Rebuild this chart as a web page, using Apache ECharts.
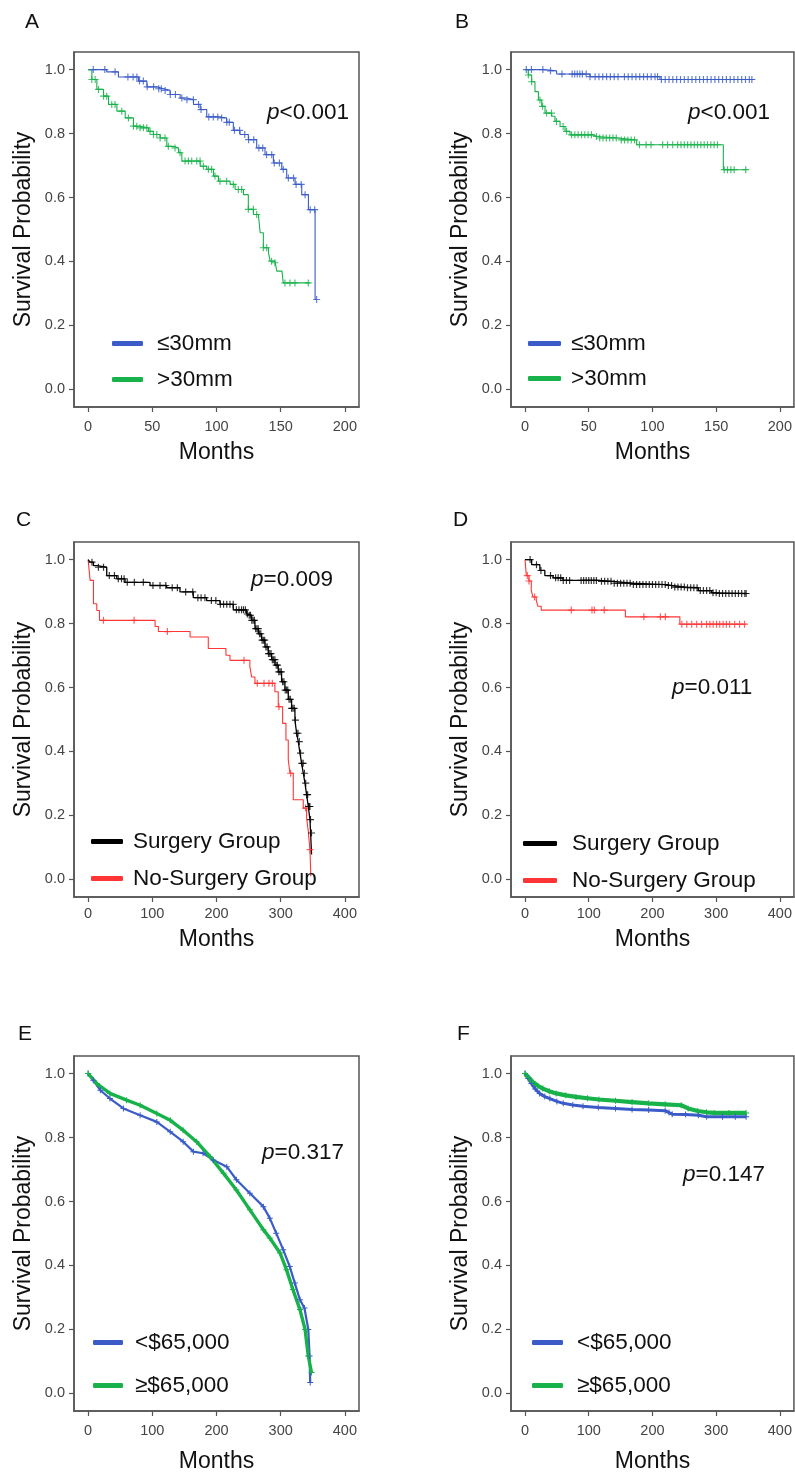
<!DOCTYPE html>
<html><head><meta charset="utf-8">
<script src="https://cdn.jsdelivr.net/npm/echarts@6/dist/echarts.min.js"></script>
<style>html,body{margin:0;padding:0;background:#fff}#c{width:795px;height:1474px}</style>
</head><body><div id="c"></div><script>
// ---------------- data ----------------
const probTicks = [0, 0.2, 0.4, 0.6, 0.8, 1.0];
const monthTicks200 = [0, 50, 100, 150, 200];
const monthTicks400 = [0, 100, 200, 300, 400];

const sizeNames = ['≤30mm', '>30mm'];
const surgNames = ['Surgery Group', 'No-Surgery Group'];
const incomeNames = ['<$65,000', '≥$65,000'];
const pValues = ['<0.001', '<0.001', '=0.009', '=0.011', '=0.317', '=0.147'];
const panelLetters = ['A', 'B', 'C', 'D', 'E', 'F'];

// Panel A  (time, survival after event)
const aSmall = [[0,1.0],[14.5,0.993],[23.6,0.977],[39.3,0.964],[45.8,0.946],[53.6,0.94],[58.8,0.935],[63.9,0.922],[71.7,0.911],[76.9,0.906],[82.1,0.891],[87.3,0.875],[92.4,0.852],[101.5,0.849],[107.9,0.835],[113.1,0.81],[118.3,0.797],[124.8,0.781],[131.3,0.755],[137.8,0.734],[144.3,0.708],[150.8,0.688],[154.7,0.661],[161.2,0.641],[166.4,0.609],[171.6,0.562],[176.8,0.281],[178,0.281]];
const aSmallCens = [4,13,21,31,35,38,40,43,46,51,55,57,60,64,68,73,77,82,86,88,94,97.5,101,104,108,110,114,118,122,125,129,133,136,139,143,145,149,152,156,160,162,166,169,173,176.5,178];
const aLarge = [[0,1.0],[2.9,0.969],[6.8,0.938],[12,0.917],[15.9,0.891],[22.4,0.87],[28.9,0.849],[35.3,0.823],[40.5,0.818],[47,0.807],[50.9,0.797],[56.1,0.786],[61.3,0.76],[66.5,0.755],[70.4,0.74],[73,0.714],[87.3,0.698],[92.4,0.688],[97.7,0.667],[101.5,0.651],[110.6,0.641],[114.5,0.625],[121,0.609],[124.8,0.563],[128.8,0.547],[132.6,0.542],[134,0.49],[136.5,0.443],[140.5,0.427],[141.8,0.401],[145.5,0.396],[147,0.37],[151,0.365],[152,0.333],[172.7,0.333]];
const aLargeCens = [2.9,5.5,8.1,12,14.5,18.4,21,26.2,31.4,35.3,37.9,40.5,43.1,45.7,48.2,50.9,53.5,56.1,59.9,62.5,67.7,71.6,75.5,78.1,80.7,84.6,87.2,89.8,93.7,96.2,98.8,102.7,107.9,113.1,117,119.6,124.8,128.7,131.3,136.5,139.1,142.9,145.5,153.3,157.2,161.1,171.5];

// Panel B
const bSmall = [[0,1.0],[14.4,0.996],[24.8,0.986],[51,0.978],[105.9,0.969],[180,0.969]];
const bSmallCens = [1,5,14,20,29,37,39,41,43,45,48,51,55,58,61,64,67,70,73,78,81,84,87,90,93,96,99,102,104,107,110,113,116,119,122,125,128,131,134,137,140,143,146,149,152,155,158,161,164,167,170,173,176,178];
const bLarge = [[0,1.0],[2.6,0.983],[5.2,0.962],[7.8,0.931],[10.5,0.905],[13.1,0.885],[15.7,0.864],[20.9,0.854],[23.5,0.838],[27.5,0.822],[31.4,0.807],[35.3,0.796],[53.6,0.791],[56.2,0.786],[73.2,0.78],[87.6,0.765],[155.6,0.687],[174,0.687]];
const bLargeCens = [2.6,5.2,11.7,13.8,16.9,20.8,24.7,29.9,32.6,36.5,39.1,41.7,44.3,46.9,49.5,52.1,56,58.6,61.2,63.8,66.4,69,71.6,75.5,78.1,80.7,83.3,85.9,89.8,95,98.9,108,111.9,115.9,119.8,122.4,125,127.6,130.2,132.8,135.4,138,140.6,143.2,145.8,148.4,151,156.3,158.9,161.5,164.1,173.2];

// Panel C
const cSurg = [[0,1.0],[3.1,0.992],[8.3,0.981],[13.5,0.976],[29,0.95],[44.6,0.94],[57.5,0.929],[96.4,0.919],[122.4,0.912],[143.1,0.899],[163.8,0.881],[184.6,0.872],[205.4,0.86],[226.1,0.843],[246.9,0.83],[249.5,0.826],[254.7,0.81],[259.9,0.784],[265.1,0.768],[270.3,0.748],[275.5,0.727],[280.7,0.706],[285.9,0.687],[291.1,0.67],[296.2,0.649],[301.4,0.618],[306.6,0.592],[311.8,0.563],[317,0.535],[322.2,0.498],[324.8,0.457],[327.4,0.431],[330,0.395],[332.6,0.363],[335.2,0.332],[337.8,0.301],[340.4,0.265],[343,0.228],[345.6,0.187],[346.6,0.145],[348.1,0.078]];
const cSurgCens = [6,16,24,33,41,47,52,56,61,72,86,101,112,121,131,139,152,163,171,176,182,192,199,206,211,216,221,226,231,235,239,242,245,248,251,253,255,257,259,261,263,265,267,269,271,273,275,277,279,281,283,285,287,289,291,293,295,297,299,301,303,305,307,309,311,313,315,317,319,321,323,325,327,329,331,333,335,337,339,340.5,342,343.5,344.5,345.5,346.5,348];
const cNoSurg = [[0,1.0],[3.1,0.935],[8.3,0.862],[13.5,0.841],[17.7,0.81],[104.3,0.791],[109.5,0.775],[158.8,0.758],[187.2,0.722],[214.7,0.701],[221,0.685],[252,0.665],[254.7,0.633],[259.9,0.613],[291,0.587],[296.2,0.54],[303,0.488],[308.2,0.436],[311.8,0.374],[314.4,0.332],[319.6,0.249],[335.2,0.223],[340.4,0.192],[343,0.15],[345.6,0.093],[347,0.01]];
const cNoSurgCens = [23.9,71.6,123.5,242.8,263.6,274,281.7,287,297.3,315.5,338.8,345.8];

// Panel D
const dSurg = [[0,1.0],[10.4,0.984],[23.3,0.966],[31.1,0.95],[44,0.943],[59.6,0.935],[116.6,0.932],[137.3,0.926],[168.4,0.922],[220.2,0.919],[230.6,0.914],[251.3,0.912],[272,0.903],[292.7,0.896],[303.1,0.894],[347.1,0.894]];
const dSurgCens = [8,18,25,40,48,52,56,60,65,70,88,92,96,100,104,108,112,120,125,130,135,140,145,150,155,160,165,170,175,180,185,190,195,200,205,210,215,220,225,230,235,240,245,250,255,260,265,270,275,280,285,290,295,300,305,310,315,320,325,330,335,340,345,347];
const dNoSurg = [[0,1.0],[2.1,0.95],[6.2,0.933],[9.8,0.904],[12.4,0.883],[17.6,0.873],[20.2,0.854],[25.4,0.842],[157.5,0.821],[243,0.798],[346.7,0.798]];
const dNoSurgCens = [3.6,6.2,15,72.5,105.1,108.8,124.3,186.5,212.4,220.2,246.1,253.9,261.6,269.4,277.2,284.9,290.1,295.3,300.5,305.6,310.8,316,321.2,329,336.7,344.5];

// Panel E
const eLow = [[0,1.0],[8,0.979],[19,0.948],[34,0.922],[55,0.891],[81,0.87],[107,0.849],[128,0.818],[148,0.787],[164,0.756],[179,0.751],[195,0.73],[216,0.709],[231,0.668],[252,0.626],[273,0.584],[283,0.548],[293,0.501],[304,0.449],[314,0.397],[322,0.345],[330,0.293],[337,0.267],[343,0.2],[345,0.117],[346,0.034]];
const eHigh = [[0,1.0],[13.5,0.969],[34,0.938],[60,0.917],[81,0.901],[107,0.875],[128,0.854],[148,0.823],[169,0.787],[190,0.74],[211,0.688],[231,0.636],[252,0.574],[273,0.512],[283,0.486],[299,0.439],[309,0.387],[319,0.325],[330,0.262],[338,0.2],[343,0.117],[348,0.065]];

// Panel F
const fLow = [[0,1.0],[5,0.985],[10,0.969],[16,0.952],[23,0.938],[31,0.928],[39,0.922],[50,0.913],[60,0.907],[75,0.902],[91,0.898],[115,0.894],[142,0.891],[168,0.888],[194,0.886],[220,0.884],[226,0.878],[231,0.873],[252,0.872],[272,0.87],[285,0.865],[310,0.865],[330,0.865],[347,0.865]];
const fHigh = [[0,1.0],[6,0.987],[12,0.974],[20,0.962],[28,0.953],[38,0.945],[49,0.938],[64,0.932],[80,0.927],[98,0.923],[116,0.919],[142,0.915],[168,0.911],[194,0.907],[220,0.904],[245,0.901],[256,0.891],[271,0.883],[285,0.879],[297,0.877],[320,0.877],[347,0.877]];

// ---------------- styling / layout ----------------
const FONT = 'Arial, "Liberation Sans", Helvetica, sans-serif';
const PLUS = 'path://M2.5,0H3.5V2.5H6V3.5H3.5V6H2.5V3.5H0V2.5H2.5Z';
const BLUE = '#3a5bc8', GREEN = '#17b24a', RED = '#ff3535', BLACK = '#000000';

const grids = [
  {left: 74, top: 52, width: 285, height: 355},
  {left: 511, top: 52, width: 285, height: 355},
  {left: 74, top: 542, width: 285, height: 355},
  {left: 511, top: 542, width: 285, height: 355},
  {left: 74, top: 1056, width: 285, height: 356},
  {left: 511, top: 1056, width: 285, height: 356}
];
const xLabelMargin = [12, 12, 9, 9, 12, 12];
const xNameGap = [34, 34, 31, 31, 39, 39];

function stepAt(curve, t) {
  let s = curve[0][1];
  for (const p of curve) { if (p[0] <= t) s = p[1]; else break; }
  return s;
}
function censorPts(curve, times) { return times.map(t => [t, stepAt(curve, t)]); }

const xAxes = [], yAxes = [], series = [], legends = [], graphics = [];
grids.forEach((g, i) => {
  const short = i < 2;
  const ticks = short ? monthTicks200 : monthTicks400;
  xAxes.push({
    type: 'value', gridIndex: i, position: 'bottom',
    min: short ? -11 : -22, max: short ? 211 : 422,
    name: 'Months', nameLocation: 'middle', nameGap: xNameGap[i],
    nameTextStyle: {fontFamily: FONT, fontSize: 23, color: '#111'},
    axisLine: {show: true, onZero: false, lineStyle: {color: '#555', width: 1.5}},
    axisTick: {show: true, length: 5, lineStyle: {color: '#555', width: 1.2}, customValues: ticks},
    axisLabel: {fontFamily: FONT, fontSize: 14.5, color: '#444', margin: xLabelMargin[i], customValues: ticks},
    splitLine: {show: false}
  });
  yAxes.push({
    type: 'value', gridIndex: i, position: 'left', min: -0.055, max: 1.055,
    name: 'Survival Probability', nameLocation: 'middle', nameGap: 39,
    nameTextStyle: {fontFamily: FONT, fontSize: 23, color: '#111'},
    axisLine: {show: true, onZero: false, lineStyle: {color: '#555', width: 1.5}},
    axisTick: {show: true, length: 5, lineStyle: {color: '#555', width: 1.2}, customValues: probTicks},
    axisLabel: {fontFamily: FONT, fontSize: 14.5, color: '#444', margin: 9, customValues: probTicks,
      formatter: v => v.toFixed(1)},
    splitLine: {show: false}
  });
});

function kmSeries(idx, name, color, curve, cens, width) {
  series.push({
    type: 'line', name: name, xAxisIndex: idx, yAxisIndex: idx, data: curve,
    step: 'end', symbol: 'none', lineStyle: {color: color, width: width || 1.1},
    itemStyle: {color: color}, silent: true
  });
  series.push({
    type: 'scatter', name: name + ' (censored)', xAxisIndex: idx, yAxisIndex: idx,
    data: censorPts(curve, cens), symbol: PLUS, symbolSize: 7,
    itemStyle: {color: color}, silent: true, z: 3
  });
}
function smoothSeries(idx, name, color, curve, width) {
  series.push({
    type: 'line', name: name, xAxisIndex: idx, yAxisIndex: idx, data: curve,
    symbol: PLUS, symbolSize: 6, showSymbol: true, showAllSymbol: true,
    lineStyle: {color: color, width: width}, itemStyle: {color: color}, silent: true
  });
}

kmSeries(0, sizeNames[0], BLUE, aSmall, aSmallCens);
kmSeries(0, sizeNames[1], GREEN, aLarge, aLargeCens);
kmSeries(1, sizeNames[0], BLUE, bSmall, bSmallCens);
kmSeries(1, sizeNames[1], GREEN, bLarge, bLargeCens);
kmSeries(2, surgNames[1], RED, cNoSurg, cNoSurgCens);
kmSeries(2, surgNames[0], BLACK, cSurg, cSurgCens, 1.3);
kmSeries(3, surgNames[1], RED, dNoSurg, dNoSurgCens);
kmSeries(3, surgNames[0], BLACK, dSurg, dSurgCens, 1.3);
smoothSeries(4, incomeNames[0], BLUE, eLow, 2.2);
smoothSeries(4, incomeNames[1], GREEN, eHigh, 3.4);
smoothSeries(5, incomeNames[0], BLUE, fLow, 3);
smoothSeries(5, incomeNames[1], GREEN, fHigh, 4.2);

const legendSpec = [
  {names: sizeNames, left: 112, top: 332, w: 31, gap: 13, tg: 14},
  {names: sizeNames, left: 528, top: 332, w: 33, gap: 12, tg: 10},
  {names: surgNames, left: 91, top: 830, w: 32, gap: 14, tg: 10},
  {names: surgNames, left: 523, top: 832, w: 34, gap: 14, tg: 15},
  {names: incomeNames, left: 93, top: 1331, w: 30, gap: 20, tg: 12},
  {names: incomeNames, left: 532, top: 1331, w: 31, gap: 20, tg: 14}
];
legendSpec.forEach(l => legends.push({
  orient: 'vertical', left: l.left, top: l.top, padding: 0, itemGap: l.gap,
  itemWidth: l.w, itemHeight: 5, icon: 'roundRect', selectedMode: false,
  data: l.names,
  textStyle: {fontFamily: FONT, fontSize: 22.5, color: '#111', padding: [0, 0, 0, l.tg - 5]}
}));

const letterPos = [[25, 23], [455, 23], [16, 521], [453, 521], [18, 1035], [457, 1035]];
const pPos = [[267, 113], [688, 113], [251, 580], [672, 688], [262, 1153], [683, 1175]];
panelLetters.forEach((L, i) => {
  graphics.push({type: 'text', left: letterPos[i][0], top: letterPos[i][1] - 11,
    style: {text: L, font: '21px ' + FONT, fill: '#111'}});
  graphics.push({type: 'text', left: pPos[i][0], top: pPos[i][1] - 12,
    style: {text: '{i|p}' + pValues[i], font: '22.5px ' + FONT, fill: '#111',
      rich: {i: {fontStyle: 'italic', fontFamily: FONT, fontSize: 22.5, fill: '#111'}}}});
});

const chart = echarts.init(document.getElementById('c'), null, {renderer: 'canvas'});
chart.setOption({
  animation: false,
  backgroundColor: '#ffffff',
  grid: grids.map(g => Object.assign({show: true, borderColor: '#555', borderWidth: 1.5, containLabel: false}, g)),
  xAxis: xAxes, yAxis: yAxes, series: series, legend: legends, graphic: graphics
});
</script></body></html>
